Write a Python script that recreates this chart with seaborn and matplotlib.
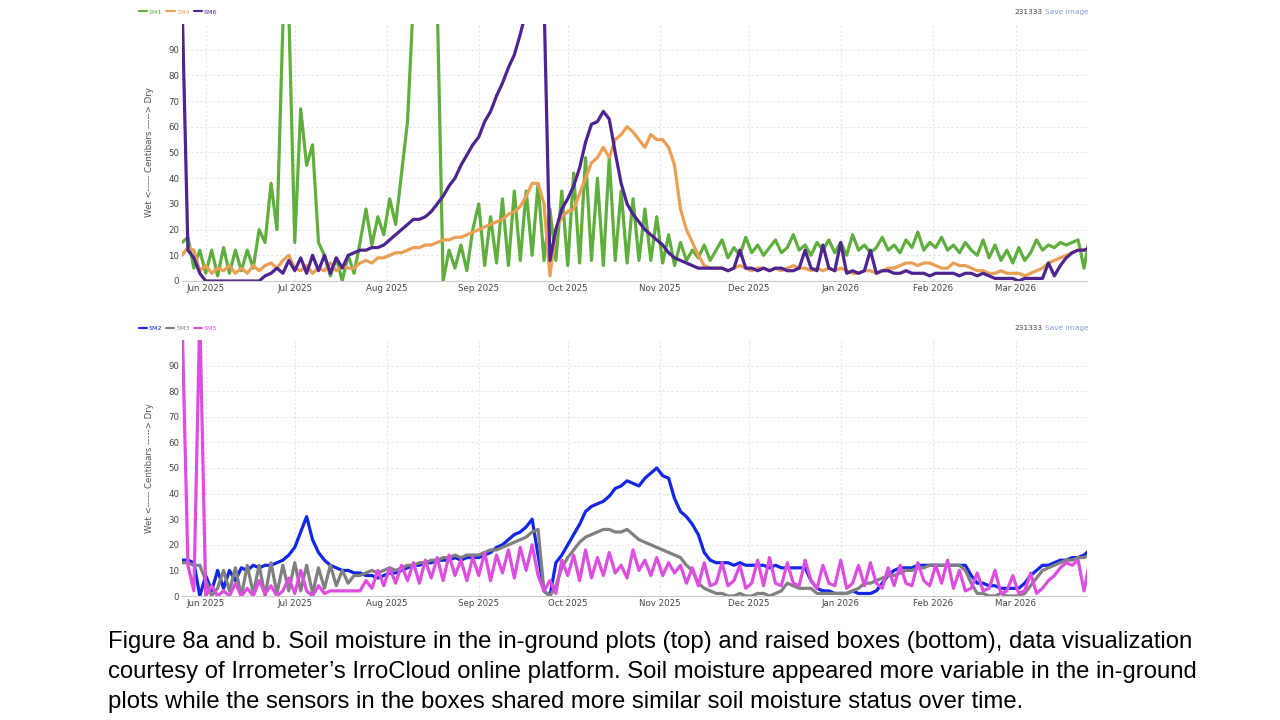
import numpy as np
import pandas as pd
import matplotlib
matplotlib.use("Agg")
import matplotlib.pyplot as plt
import matplotlib.dates as mdates
import seaborn as sns

# readings every 2 days starting 2025-05-24 (values above 100 are off the chart)
start = "2025-05-24"
n_points = 154

sm1 = [15, 17, 5, 12, 3, 12, 2, 13, 3, 12,
       4, 12, 5, 20, 15, 38, 20, 100, 105, 15,
       67, 45, 53, 15, 10, 2, 9, 0, 10, 3,
       15, 28, 14, 25, 18, 32, 22, 42, 62, 110,
       110, 110, 110, 110, 0, 12, 5, 14, 4, 20,
       30, 6, 25, 7, 32, 6, 35, 8, 35, 10,
       38, 8, 28, 8, 35, 6, 42, 7, 48, 8,
       40, 6, 48, 8, 35, 7, 32, 8, 28, 8,
       25, 7, 18, 6, 15, 8, 12, 9, 14, 8,
       12, 16, 9, 13, 10, 17, 11, 14, 10, 13,
       16, 11, 13, 18, 12, 14, 10, 15, 12, 16,
       11, 15, 10, 18, 12, 14, 11, 13, 17, 12,
       14, 11, 16, 13, 19, 12, 15, 13, 17, 12,
       14, 11, 15, 12, 10, 16, 9, 14, 8, 12,
       7, 13, 8, 11, 16, 12, 14, 13, 15, 14,
       15, 16, 5, 18]

sm4 = [10, 13, 12, 4, 6, 3, 5, 4, 6, 3,
       5, 3, 6, 4, 6, 7, 5, 8, 10, 5,
       4, 6, 3, 5, 4, 7, 4, 6, 5, 5,
       7, 8, 7, 9, 9, 10, 11, 11, 12, 13,
       13, 14, 14, 15, 16, 16, 17, 17, 18, 19,
       20, 21, 22, 23, 24, 26, 27, 29, 33, 38,
       38, 30, 2, 20, 25, 27, 28, 34, 40, 46,
       48, 52, 48, 55, 57, 60, 58, 55, 52, 57,
       55, 55, 52, 45, 28, 20, 15, 10, 6, 5,
       5, 5, 4, 5, 6, 5, 4, 5, 5, 4,
       5, 4, 5, 6, 5, 5, 4, 5, 4, 5,
       4, 5, 4, 3, 3, 4, 4, 3, 4, 5,
       5, 6, 7, 7, 6, 7, 7, 6, 5, 5,
       7, 6, 6, 5, 4, 4, 3, 3, 4, 3,
       3, 3, 2, 3, 4, 5, 7, 8, 9, 10,
       11, 12, 12, 13]

sm6 = [110, 12, 9, 3, 0, 0, 0, 0, 0, 0,
       0, 0, 0, 0, 2, 3, 5, 3, 8, 4,
       9, 3, 10, 4, 10, 3, 9, 5, 10, 11,
       12, 12, 13, 13, 14, 16, 18, 20, 22, 24,
       24, 25, 27, 30, 33, 37, 40, 45, 49, 53,
       56, 62, 66, 72, 77, 83, 88, 96, 105, 110,
       110, 110, 8, 20, 28, 32, 37, 44, 54, 61,
       62, 66, 63, 50, 38, 30, 26, 23, 20, 18,
       16, 14, 11, 9, 8, 7, 6, 5, 5, 5,
       5, 5, 4, 5, 12, 5, 5, 4, 5, 4,
       5, 5, 4, 4, 5, 12, 5, 4, 14, 5,
       4, 15, 3, 4, 3, 4, 12, 3, 4, 4,
       3, 3, 4, 3, 3, 3, 2, 3, 3, 3,
       3, 2, 3, 3, 2, 3, 2, 1, 1, 1,
       1, 0, 1, 1, 1, 1, 7, 2, 6, 9,
       11, 12, 12, 13]

sm2 = [14, 14, 13, 0, 8, 2, 10, 3, 10, 6,
       11, 10, 12, 11, 12, 12, 13, 14, 16, 19,
       25, 31, 22, 17, 14, 12, 11, 10, 10, 9,
       9, 8, 8, 7, 8, 9, 9, 10, 11, 12,
       12, 13, 13, 14, 14, 14, 15, 14, 15, 15,
       15, 16, 17, 19, 20, 22, 24, 25, 27, 30,
       16, 2, 0, 13, 16, 20, 24, 28, 33, 35,
       36, 37, 39, 42, 43, 45, 44, 43, 46, 48,
       50, 47, 46, 38, 33, 31, 28, 24, 17, 14,
       13, 13, 13, 12, 13, 12, 12, 12, 12, 11,
       12, 11, 11, 11, 11, 11, 6, 3, 2, 2,
       1, 1, 1, 2, 1, 1, 1, 2, 5, 8,
       10, 11, 11, 11, 12, 12, 12, 12, 12, 12,
       12, 12, 12, 8, 5, 5, 4, 4, 3, 3,
       3, 3, 5, 8, 10, 12, 12, 13, 14, 14,
       15, 15, 16, 18]

sm3 = [13, 13, 12, 12, 6, 0, 3, 10, 2, 11,
       0, 12, 1, 12, 0, 13, 1, 12, 2, 13,
       2, 12, 1, 11, 3, 12, 4, 10, 5, 8,
       8, 9, 10, 9, 10, 11, 10, 11, 12, 12,
       13, 13, 14, 14, 15, 15, 16, 15, 16, 16,
       16, 17, 18, 18, 19, 20, 21, 22, 23, 25,
       26, 2, 0, 4, 11, 15, 18, 21, 23, 24,
       25, 26, 26, 25, 25, 26, 24, 22, 21, 20,
       19, 18, 17, 16, 15, 12, 10, 5, 3, 2,
       1, 1, 0, 0, 1, 0, 0, 1, 1, 0,
       1, 2, 5, 4, 3, 3, 3, 1, 1, 1,
       1, 1, 1, 2, 3, 5, 5, 6, 7, 8,
       8, 9, 10, 10, 11, 11, 12, 12, 12, 12,
       12, 12, 10, 5, 1, 1, 0, 0, 1, 0,
       0, 0, 1, 4, 7, 10, 11, 12, 13, 14,
       14, 15, 15, 16]

sm5 = [110, 12, 2, 110, 0, 4, 0, 2, 0, 5,
       0, 3, 0, 6, 1, 4, 0, 2, 7, 1,
       10, 2, 0, 4, 1, 2, 2, 2, 2, 2,
       2, 6, 3, 10, 4, 11, 5, 12, 6, 13,
       5, 14, 7, 15, 6, 16, 8, 14, 6, 15,
       8, 17, 6, 16, 9, 18, 7, 19, 10, 20,
       8, 2, 6, 1, 14, 8, 16, 6, 18, 7,
       15, 8, 17, 9, 12, 7, 18, 10, 14, 8,
       15, 8, 13, 9, 12, 5, 11, 4, 13, 4,
       5, 13, 4, 6, 12, 3, 5, 14, 4, 15,
       5, 4, 13, 5, 4, 14, 6, 3, 12, 5,
       4, 14, 3, 5, 12, 4, 13, 5, 3, 11,
       4, 12, 5, 4, 13, 6, 4, 12, 5, 14,
       3, 10, 2, 3, 9, 2, 3, 10, 1, 2,
       8, 1, 2, 9, 1, 3, 6, 8, 11, 13,
       12, 14, 2, 14]

top_names = ["SM1", "SM4", "SM6"]
top_colors = ["#5fae3e", "#eb9f55", "#4e2590"]
bottom_names = ["SM2", "SM3", "SM5"]
bottom_colors = ["#1126e6", "#808080", "#dc4ee0"]

caption = [
    "Figure 8a and b. Soil moisture in the in-ground plots (top) and raised boxes (bottom), data visualization",
    "courtesy of Irrometer\u2019s IrroCloud online platform. Soil moisture appeared more variable in the in-ground",
    "plots while the sensors in the boxes shared more similar soil moisture status over time.",
]

dates = pd.date_range(start, periods=n_points, freq="2D")
df = pd.DataFrame({"date": dates, "SM1": sm1, "SM4": sm4, "SM6": sm6,
                   "SM2": sm2, "SM3": sm3, "SM5": sm5})

sns.set_style("white")
plt.rcParams["font.family"] = ["DejaVu Sans"]

fig = plt.figure(figsize=(12.8, 7.2), dpi=100)
ax1 = fig.add_axes([182 / 1280, 1 - 281 / 720, 905 / 1280, 257 / 720])
ax2 = fig.add_axes([182 / 1280, 1 - 596 / 720, 905 / 1280, 256 / 720])


def draw_panel(ax, names, colors, legend_y):
    for name, col in zip(names, colors):
        sns.lineplot(data=df, x="date", y=name, ax=ax, color=col, linewidth=2.3,
                     estimator=None, label=name)
    ax.set_ylim(0, 100)
    ax.set_xlim(pd.Timestamp("2025-05-24"), pd.Timestamp("2026-03-25"))
    ax.set_yticks(range(0, 100, 10))
    ax.xaxis.set_major_locator(mdates.MonthLocator())
    ax.xaxis.set_major_formatter(mdates.DateFormatter("%b %Y"))
    ax.tick_params(axis="both", length=0, labelsize=6.2, colors="#444444", pad=2)
    ax.grid(True, color="#e6e6e6", linestyle=(0, (2, 2)), linewidth=0.8)
    ax.set_axisbelow(True)
    for side in ["top", "right", "left"]:
        ax.spines[side].set_visible(False)
    ax.spines["bottom"].set_color("#cccccc")
    ax.spines["bottom"].set_linewidth(0.8)
    ax.set_xlabel("")
    ax.set_ylabel("Wet <----- Centibars -----> Dry", fontsize=6.2, color="#555555", labelpad=10)
    handles, labels = ax.get_legend_handles_labels()
    ax.get_legend().remove()
    leg = fig.legend(handles, labels, loc="center left", bbox_to_anchor=(136 / 1280, legend_y),
                     ncol=3, fontsize=4.6, frameon=False, handlelength=1.3, handletextpad=0.3,
                     columnspacing=0.6, borderaxespad=0)
    for txt, col in zip(leg.get_texts(), colors):
        txt.set_color(col)
    for h in leg.get_lines():
        h.set_linewidth(1.5)
    fig.text(1042 / 1280, legend_y, "231333", fontsize=5.3, color="#444444", ha="right", va="center")
    fig.text(1045 / 1280, legend_y, "Save image", fontsize=5.3, color="#7f9ed2", ha="left", va="center")


draw_panel(ax1, top_names, top_colors, 1 - 12 / 720)
draw_panel(ax2, bottom_names, bottom_colors, 1 - 328 / 720)

for i, line in enumerate(caption):
    fig.text(108 / 1280, 1 - (642 + 30 * i) / 720, line, fontsize=17.2,
             family=["Liberation Sans", "DejaVu Sans"], color="black", ha="left", va="center")

fig.savefig("out.png", dpi=100)
